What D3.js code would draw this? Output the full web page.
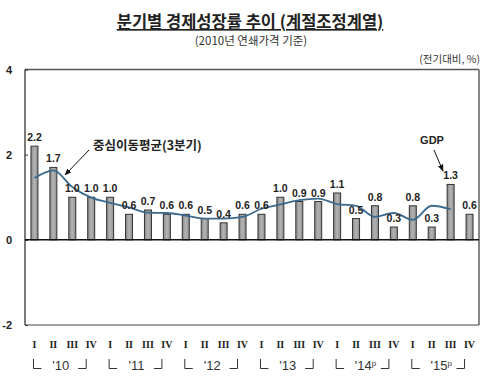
<!DOCTYPE html>
<html>
<head>
<meta charset="utf-8">
<script src="https://cdn.jsdelivr.net/npm/d3@7"></script>
<style>
  body { margin: 0; background: #fff; }
  svg { display: block; }
</style>
</head>
<body>
<div id="chart"></div>
<script>
// quarterly GDP growth, q-o-q %, 2010 Q1 .. 2015 Q4
const quarters = ["I", "II", "III", "IV"];
const years = ["'10", "'11", "'12", "'13", "'14", "'15"];
const prelim = [false, false, false, false, true, true];
const growth = [2.2, 1.7, 1.0, 1.0, 1.0, 0.6, 0.7, 0.6, 0.6, 0.5, 0.4, 0.6,
                0.6, 1.0, 0.9, 0.9, 1.1, 0.5, 0.8, 0.3, 0.8, 0.3, 1.3, 0.6];
// 3-quarter centred moving average, 2010 Q1 .. 2015 Q3
const movingAvg = [1.45, 1.63, 1.24, 0.99, 0.87, 0.76, 0.64, 0.63, 0.57, 0.5, 0.5, 0.54,
                   0.73, 0.83, 0.93, 0.97, 0.84, 0.8, 0.54, 0.63, 0.47, 0.8, 0.72];
const yTicks = [-2, 0, 2, 4];

const width = 493, height = 389;
const plotLeft = 25, plotRight = 479, plotTop = 69.5, plotBottom = 325;

const svg = d3.select("#chart").append("svg")
    .attr("width", width)
    .attr("height", height);

const idx = d3.range(growth.length);

const x = d3.scaleBand()
    .domain(idx)
    .range([plotLeft, plotRight])
    .paddingInner(0.63)
    .paddingOuter(0.315);

const y = d3.scaleLinear()
    .domain([-2, 4])
    .range([plotBottom, plotTop]);

// titles
svg.append("text")
    .attr("x", 250).attr("y", 28)
    .attr("text-anchor", "middle")
    .style("font-family", "'Noto Sans CJK KR'")
    .style("font-size", "16.5px")
    .style("font-weight", "bold")
    .style("fill", "#222")
    .style("text-decoration", "underline")
    .text("분기별 경제성장률 추이 (계절조정계열)");

svg.append("text")
    .attr("x", 251).attr("y", 45)
    .attr("text-anchor", "middle")
    .style("font-family", "'Noto Sans CJK KR'")
    .style("font-size", "11.5px")
    .style("fill", "#333")
    .text("(2010년 연쇄가격 기준)");

svg.append("text")
    .attr("x", 480).attr("y", 63)
    .attr("text-anchor", "end")
    .style("font-family", "'Noto Sans CJK KR'")
    .style("font-size", "10.5px")
    .style("fill", "#333")
    .text("(전기대비, %)");

// frame
svg.append("line")
    .attr("x1", plotLeft).attr("x2", plotRight).attr("y1", plotTop).attr("y2", plotTop)
    .attr("stroke", "#555").attr("stroke-width", 1.5);
svg.append("line")
    .attr("x1", plotRight).attr("x2", plotRight).attr("y1", plotTop).attr("y2", plotBottom)
    .attr("stroke", "#888").attr("stroke-width", 2);
svg.append("line")
    .attr("x1", plotLeft).attr("x2", plotRight).attr("y1", plotBottom).attr("y2", plotBottom)
    .attr("stroke", "#444").attr("stroke-width", 1.2);
svg.append("line")
    .attr("x1", plotLeft).attr("x2", plotLeft).attr("y1", plotTop).attr("y2", plotBottom)
    .attr("stroke", "#222").attr("stroke-width", 1.2);

// y axis
const yAxis = svg.append("g")
    .attr("transform", `translate(${plotLeft},0)`)
    .call(d3.axisLeft(y).tickValues(yTicks).tickSize(-3).tickPadding(13).tickFormat(d => String(d)));
yAxis.select(".domain").remove();
yAxis.selectAll("line").attr("stroke", "#333");
yAxis.selectAll("text")
    .style("font-family", "Arial, 'Liberation Sans'")
    .style("font-size", "11px")
    .style("font-weight", "bold")
    .style("fill", "#222");

// bars
const grad = svg.append("defs").append("linearGradient")
    .attr("id", "barfill").attr("x1", "0").attr("x2", "1").attr("y1", "0").attr("y2", "0");
grad.append("stop").attr("offset", "0%").attr("stop-color", "#8a8a8a");
grad.append("stop").attr("offset", "50%").attr("stop-color", "#b4b4b4");
grad.append("stop").attr("offset", "100%").attr("stop-color", "#8e8e8e");

svg.append("g")
    .selectAll("rect")
    .data(growth)
    .join("rect")
    .attr("x", (d, i) => x(i))
    .attr("y", d => y(d))
    .attr("width", x.bandwidth())
    .attr("height", d => y(0) - y(d))
    .attr("fill", "url(#barfill)")
    .attr("stroke", "#333")
    .attr("stroke-width", 1);

// zero line
svg.append("line")
    .attr("x1", plotLeft).attr("x2", plotRight).attr("y1", y(0)).attr("y2", y(0))
    .attr("stroke", "#111").attr("stroke-width", 1.5);

// moving average line
const line = d3.line()
    .x((d, i) => x(i) + x.bandwidth() / 2)
    .y(d => y(d))
    .curve(d3.curveMonotoneX);

svg.append("path")
    .datum(movingAvg)
    .attr("d", line)
    .attr("fill", "none")
    .attr("stroke", "#3b6a8f")
    .attr("stroke-width", 1.8);

// value labels
svg.append("g")
    .selectAll("text")
    .data(growth)
    .join("text")
    .attr("x", (d, i) => x(i) + x.bandwidth() / 2)
    .attr("y", d => y(d) - 5)
    .attr("text-anchor", "middle")
    .style("font-family", "Arial, 'Liberation Sans'")
    .style("font-size", "10.5px")
    .style("font-weight", "bold")
    .style("fill", "#222")
    .text(d => d3.format(".1f")(d));

// annotations
svg.append("defs").append("marker")
    .attr("id", "arrow")
    .attr("viewBox", "0 0 10 10")
    .attr("refX", 9).attr("refY", 5)
    .attr("markerWidth", 7).attr("markerHeight", 7)
    .attr("orient", "auto")
    .append("path")
    .attr("d", "M0,1 L10,5 L0,9 z")
    .attr("fill", "#111");

svg.append("text")
    .attr("x", 93).attr("y", 150)
    .style("font-family", "'Noto Sans CJK KR'")
    .style("font-size", "12.5px")
    .style("font-weight", "bold")
    .style("fill", "#222")
    .text("중심이동평균(3분기)");
svg.append("line")
    .attr("x1", 89).attr("y1", 150).attr("x2", 65).attr("y2", 175)
    .attr("stroke", "#111").attr("stroke-width", 1)
    .attr("marker-end", "url(#arrow)");

svg.append("text")
    .attr("x", 432).attr("y", 144)
    .attr("text-anchor", "middle")
    .style("font-family", "Arial, 'Liberation Sans'")
    .style("font-size", "11px")
    .style("font-weight", "bold")
    .style("fill", "#222")
    .text("GDP");
svg.append("line")
    .attr("x1", 434).attr("y1", 150).attr("x2", 443).attr("y2", 171)
    .attr("stroke", "#111").attr("stroke-width", 1)
    .attr("marker-end", "url(#arrow)");

// quarter labels
svg.append("g")
    .selectAll("text")
    .data(idx)
    .join("text")
    .attr("x", i => x(i) + x.bandwidth() / 2)
    .attr("y", 348)
    .attr("text-anchor", "middle")
    .style("font-family", "'Liberation Serif', serif")
    .style("font-size", "10px")
    .style("font-weight", "bold")
    .style("fill", "#222")
    .text(i => quarters[i % 4]);

// year brackets
const yr = svg.append("g");
years.forEach((label, k) => {
    const c0 = x(k * 4) + x.bandwidth() / 2;
    const c3 = x(k * 4 + 3) + x.bandwidth() / 2;
    const mid = (x(k * 4 + 1) + x(k * 4 + 2)) / 2 + x.bandwidth() / 2 - 2;
    yr.append("path")
        .attr("d", `M${c0 - 1},359 V368.5 H${c0 + 7}`)
        .attr("fill", "none").attr("stroke", "#333").attr("stroke-width", 1);
    yr.append("path")
        .attr("d", `M${c3 - 13},368.5 H${c3 - 5} V359`)
        .attr("fill", "none").attr("stroke", "#333").attr("stroke-width", 1);
    const t = yr.append("text")
        .attr("x", mid + (prelim[k] ? 2 : 0)).attr("y", 370)
        .attr("text-anchor", "middle")
        .style("font-family", "Arial, 'Liberation Sans'")
        .style("font-size", "13px")
        .style("fill", "#333")
        .text(label);
    if (prelim[k]) {
        t.append("tspan")
            .attr("dy", -4)
            .style("font-size", "8px")
            .text("p");
    }
});
</script>
</body>
</html>
